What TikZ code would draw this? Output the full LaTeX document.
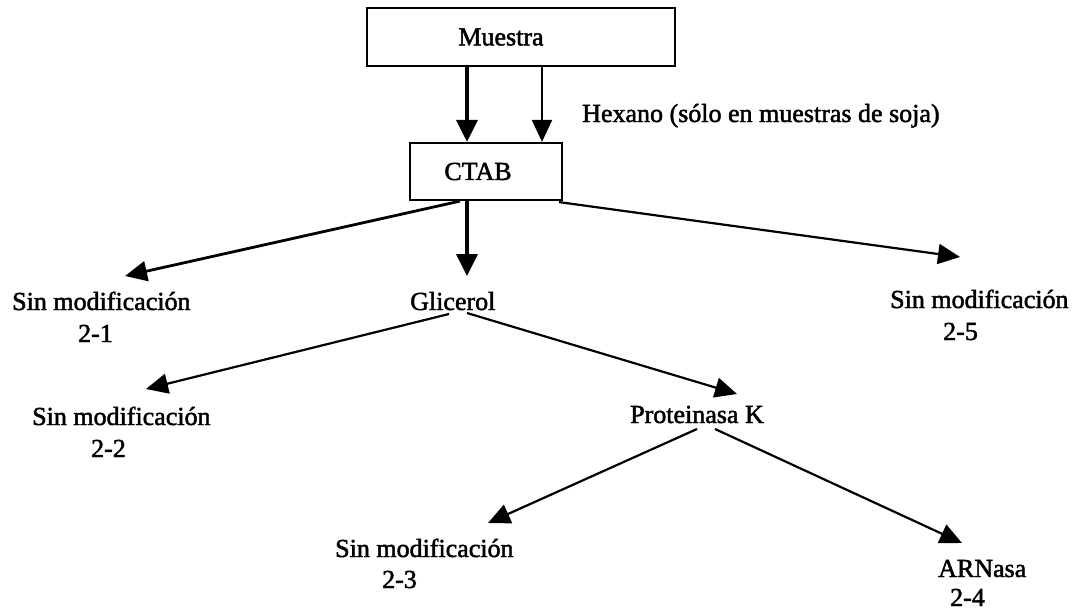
\documentclass[tikz,border=0pt]{standalone}
\usepackage{fontspec}
\setmainfont{Liberation Serif}[FakeBold=1.8]
\usetikzlibrary{arrows.meta}
\begin{document}
\begin{tikzpicture}[x=1pt,y=-1pt,
  every node/.style={font=\fontsize{26}{30}\selectfont},
  boxnode/.style={draw, line width=2.2pt, inner sep=0pt},
  txt/.style={anchor=base west, inner sep=0pt},
  arr/.style={line width=2.2pt, -{Triangle[length=22pt,width=20pt]}},
  thickarr/.style={line width=3.8pt, -{Triangle[length=22pt,width=21pt]}}]
\fill[white] (0,0) rectangle (1077,610);
\useasboundingbox (0,0) rectangle (1077,610);
% boxes
\node[boxnode, minimum width=308pt, minimum height=58pt] (muestra) at (521,37) {Muestra\hspace*{40pt}};
\node[boxnode, minimum width=152pt, minimum height=57pt] (ctab) at (486,171.5) {CTAB\hspace*{16pt}};
% texts
\node[txt] (hex) at (582,122) {Hexano (sólo en muestras de soja)};
\node[txt] (s1) at (12,310) {Sin modificación};
\node[txt] (n1) at (78,342) {2-1};
\node[txt] (gl) at (410,310) {Glicerol};
\node[txt] (s5) at (890,308) {Sin modificación};
\node[txt] (n5) at (943,340) {2-5};
\node[txt] (s2) at (32,425) {Sin modificación};
\node[txt] (n2) at (91,457) {2-2};
\node[txt] (pk) at (630,423) {Proteinasa K};
\node[txt] (s3) at (335,557) {Sin modificación};
\node[txt] (n3) at (382,588) {2-3};
\node[txt] (arn) at (938,577) {ARNasa};
\node[txt] (n4) at (950,606) {2-4};
% connectors
\draw[thickarr] ([shift={(-54,0)}]muestra.south) -- ([shift={(-19,0)}]ctab.north);
\draw[arr] ([shift={(21,0)}]muestra.south) -- ([shift={(56,0)}]ctab.north);
\draw[line width=2.8pt, -{Triangle[length=22pt,width=20pt]}] ([shift={(-26,0)}]ctab.south) -- ([shift={(113,-34)}]s1.base west);
\draw[thickarr] ([shift={(-19,0)}]ctab.south) -- ([shift={(57,-34)}]gl.base west);
\draw[arr] ([shift={(-4,1)}]ctab.south east) -- ([shift={(70,-51)}]s5.base west);
\draw[arr] ([shift={(39,4)}]gl.base west) -- ([shift={(114,-36)}]s2.base west);
\draw[arr] ([shift={(57,3)}]gl.base west) -- ([shift={(107,-29)}]pk.base west);
\draw[arr] ([shift={(67,6)}]pk.base west) -- ([shift={(153,-34)}]s3.base west);
\draw[arr] ([shift={(85,6)}]pk.base west) -- ([shift={(24,-34)}]arn.base west);
\end{tikzpicture}
\end{document}
